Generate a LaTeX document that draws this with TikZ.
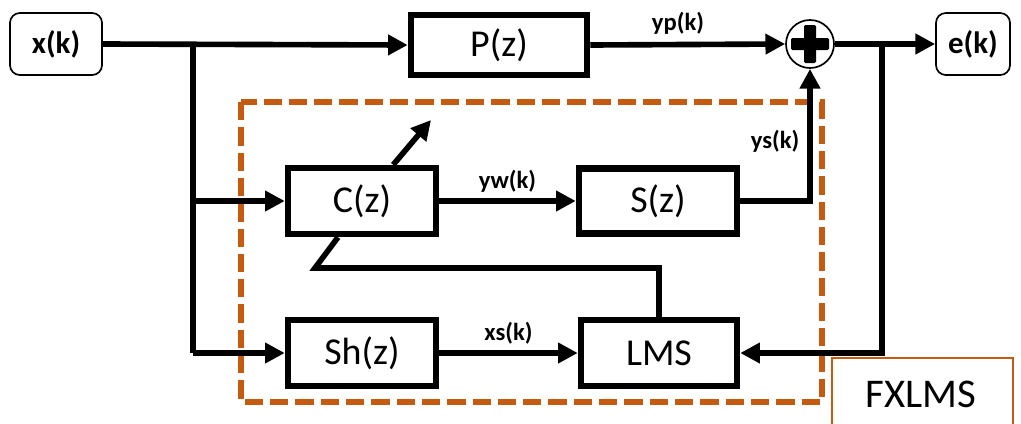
\documentclass[tikz,border=0pt]{standalone}
\usepackage{fontspec}
\setmainfont{Carlito}
\usetikzlibrary{arrows.meta}
\definecolor{fxorange}{RGB}{197,90,17}

\begin{document}
\begin{tikzpicture}[x=0.025cm,y=-0.025cm,
	blk/.style={draw, line width=4.6pt, inner sep=0pt, font=\fontsize{27}{30}\selectfont},
	io/.style={draw, rounded corners=7pt, line width=1.2pt, inner sep=0pt, minimum width=2.3cm, minimum height=1.55cm, font=\bfseries\fontsize{22}{24}\selectfont},
	wire/.style={line width=4pt},
	sig/.style={wire, -{Triangle[length=14pt,width=14pt]}},
	lbl/.style={font=\bfseries\fontsize{17.5}{19}\selectfont, inner sep=0pt}]
			%%%%% START %%%%%
			\useasboundingbox (0,0) rectangle (1021,423);
			
			% frame of the adaptive part
			\draw[fxorange, line width=3.6pt, dash pattern=on 13pt off 5pt] (241,102) rectangle (822,402);
			\draw[fxorange, line width=1.2pt] (832,358) rectangle (1013,440);
			\node (fx) at (921,394) {\fontsize{29}{32}\selectfont FXLMS};
			
			% blocks
			\node[io] (xk) at (56,44) {x(k)};
			\node[io, minimum width=1.85cm] (ek) at (973,44) {e(k)};
			\node[blk, minimum width=4.4cm, minimum height=1.5cm] (P) at (499,45) {P(z)};
			\node[blk, minimum width=3.7cm, minimum height=1.65cm] (C) at (362,201) {C(z)};
			\node[blk, minimum width=3.95cm, minimum height=1.62cm] (S) at (658,201) {S(z)};
			\node[blk, minimum width=3.7cm, minimum height=1.65cm] (Sh) at (362,353) {Sh(z)};
			\node[blk, minimum width=3.9cm, minimum height=1.65cm] (LMS) at (659,353) {LMS};
			
			% summing junction
			\node[draw, circle, line width=1.2pt, minimum size=1.2cm, inner sep=0pt] (sum) at (810,44) {};
			\fill[rounded corners=1pt] (sum.center) ++(-19,-6) rectangle ++(38,12);
			\fill[rounded corners=1pt] (sum.center) ++(-6,-19) rectangle ++(12,38);
			
			% branch points
			\coordinate (bx) at (193,44);
			\coordinate (bxlow) at (193,353);
			\coordinate (be) at (882,44);
			\coordinate (fb) at (315,268);
			\coordinate (adapt) at (431,120);
			
			% signal paths
			\draw[sig] (xk.east) -- (P.west);
			\draw[wire] (bx) -- (bxlow);
			\draw[sig] (bx |- C.west) -- (C.west);
			\draw[sig] (bxlow) -- (Sh.west);
			\draw[sig] (P.east) -- (sum.west) node[lbl, pos=0.45, above=5pt] {yp(k)};
			\draw[sig] (sum.east) -- (ek.west);
			\draw[sig] (be) |- (LMS.east);
			\draw[sig] (C.east) -- (S.west) node[lbl, midway, above=4pt] {yw(k)};
			\draw[sig] (S.east) -| (sum.south);
			\node[lbl] (ys) at (775,141) {ys(k)};
			\draw[sig] (Sh.east) -- (LMS.west) node[lbl, midway, above=4pt] {xs(k)};
			\draw[wire] (LMS.north) |- (fb) -- ([xshift=-0.6cm]C.south);
			\draw[sig] ([xshift=0.78cm]C.north) -- (adapt);
			
			%%%%% END %%%%%
\end{tikzpicture}
\end{document}
